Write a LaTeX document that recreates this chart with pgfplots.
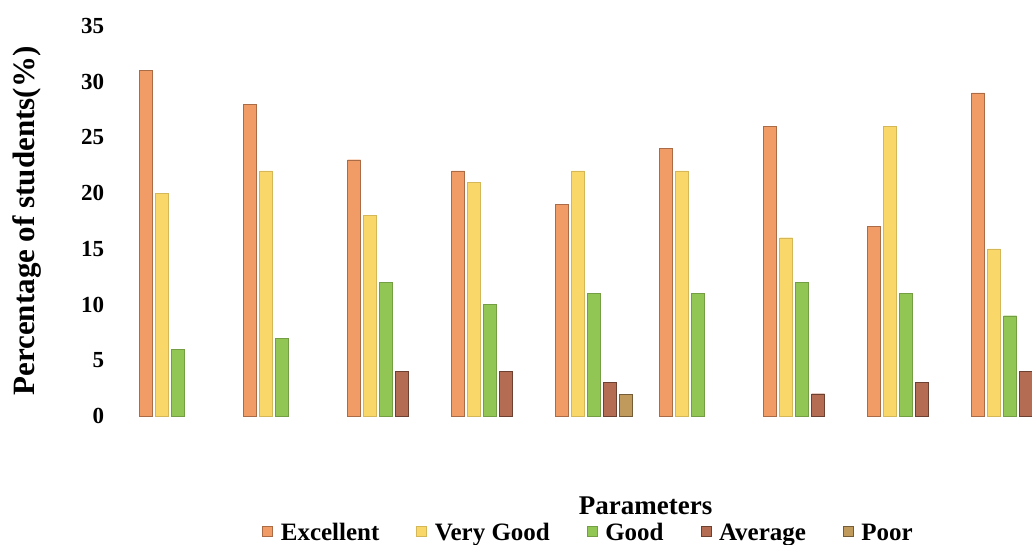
\documentclass[border=0pt]{standalone}
\usepackage{pgfplots}
\pgfplotsset{compat=1.18}
\usepackage{fontspec}
\setmainfont{Liberation Serif}

\definecolor{cexc}{RGB}{241,155,102}
\definecolor{cvg}{RGB}{250,215,105}
\definecolor{cgood}{RGB}{145,198,85}
\definecolor{cavg}{RGB}{180,108,82}
\definecolor{cpoor}{RGB}{192,154,92}

\begin{document}
\begin{tikzpicture}
\begin{axis}[
    at={(0,0)}, anchor=south west,
    scale only axis,
    width=916.4pt, height=390pt,
    xmin=0.4, xmax=9.2115,
    ymin=0, ymax=35,
    ybar=3pt, bar width=13pt,
    axis line style={draw=none},
    ytick={0,5,...,35},
    xtick=\empty,
    major tick length=0pt,
    yticklabel style={font=\fontsize{23}{25}\selectfont\bfseries, anchor=east, xshift=-8pt},
    /pgf/number format/assume math mode=true,
    ylabel={Percentage of students(\%)},
    every axis y label/.style={at={(rel axis cs:0,0.5)}, xshift=-89pt, rotate=90, anchor=center,
        font=\fontsize{31}{33}\selectfont\bfseries},
    xlabel={Parameters},
    every axis x label/.style={at={(rel axis cs:0,0)}, xshift=530pt, yshift=-90pt, anchor=center,
        font=\fontsize{27}{29}\selectfont\bfseries},
    legend style={at={(rel axis cs:0,0)}, xshift=473pt, yshift=-119pt, anchor=center,
        draw=none, fill=none, legend columns=5,
        font=\fontsize{25}{27}\selectfont\bfseries,
        nodes={text height=16pt, text depth=5pt, inner sep=2pt},
        /tikz/every odd column/.style={column sep=6pt},
        /tikz/every even column/.style={column sep=35pt}},
    legend image code/.code={\fill[#1] (0pt,-1pt) rectangle (10pt,9pt);},
]
\addplot[fill=cexc, draw=cexc!70!black, line width=0.4pt] coordinates {
(1,31) (2,28) (3,23) (4,22) (5,19) (6,24) (7,26) (8,17) (9,29)};
\addplot[fill=cvg, draw=cvg!85!black, line width=0.4pt] coordinates {
(1,20) (2,22) (3,18) (4,21) (5,22) (6,22) (7,16) (8,26) (9,15)};
\addplot[fill=cgood, draw=cgood!80!black, line width=0.4pt] coordinates {
(1,6) (2,7) (3,12) (4,10) (5,11) (6,11) (7,12) (8,11) (9,9)};
\addplot[fill=cavg, draw=cavg!60!black, line width=0.4pt] coordinates {
(3,4) (4,4) (5,3) (7,2) (8,3) (9,4)};
\addplot[fill=cpoor, draw=cpoor!60!black, line width=0.4pt] coordinates {
(5,2)};
\legend{Excellent, Very Good, Good, Average, Poor}
\end{axis}
\pgfresetboundingbox
\path[use as bounding box] (-115.6pt,-128pt) rectangle (916.4pt,416pt);
\end{tikzpicture}
\end{document}
